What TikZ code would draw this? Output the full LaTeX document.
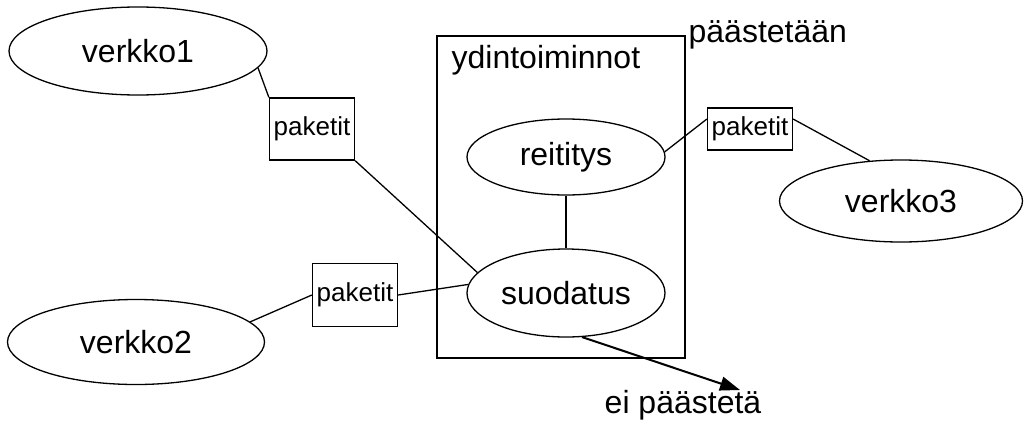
\documentclass[tikz,border=0pt]{standalone}
\usepackage{fontspec}
\setmainfont{Liberation Sans}
\usetikzlibrary{shapes.geometric,arrows.meta}
\begin{document}
\begin{tikzpicture}[x=0.5pt,y=-0.5pt,line width=0.65pt,
        big/.style={font=\fontsize{16}{19}\selectfont},
        net/.style={ellipse,draw,inner sep=0pt,big},
        pkt/.style={draw,inner sep=0pt,minimum width=42.5pt,
            font=\fontsize{13}{15}\selectfont},
        lbl/.style={inner sep=0pt,big}]
	\useasboundingbox (0,0) rectangle (1031,423);
	\node[net,minimum width=129pt,minimum height=44pt] (v1) at (138,51) {verkko1};
	\node[net,minimum width=128.5pt,minimum height=42.5pt] (v2) at (136,342) {verkko2};
	\node[net,minimum width=121.5pt,minimum height=41pt] (v3) at (901,201) {verkko3};
	\node[draw,minimum width=124pt,minimum height=161pt] (core) at (561,197) {};
	\node[lbl,anchor=base west] (corelbl) at (451,68) {ydintoiminnot};
	\node[net,minimum width=99pt,minimum height=38pt] (reit) at (566,157) {reititys};
	\node[net,minimum width=99pt,minimum height=44pt] (suod) at (566,293) {suodatus};
	\node[pkt,minimum height=31pt] (p1) at (312,129) {paketit};
	\node[pkt,minimum height=31.5pt] (p2) at (355,295) {paketit};
	\node[pkt,minimum height=21pt] (p3) at (750,129) {paketit};
	\node[lbl,anchor=base west] (pass) at (688,42) {päästetään};
	\node[lbl,anchor=base] (drop) at (683,413) {ei päästetä};
	\coordinate (droptip) at (740,390);
	\draw (v1.-8) -- (p1.north west);
	\draw (p1.south east) -- (suod.167);
	\draw (v2.10) -- (p2.west);
	\draw (p2.east) -- (suod.175);
	\draw (reit.3) -- (p3.167);
	\draw (p3.13) -- (v3.128);
	\draw (reit) -- (suod);
	\draw[line width=1pt,-{Triangle[length=10pt,width=7pt]}] (suod.-70) -- (droptip);
\end{tikzpicture}
\end{document}
